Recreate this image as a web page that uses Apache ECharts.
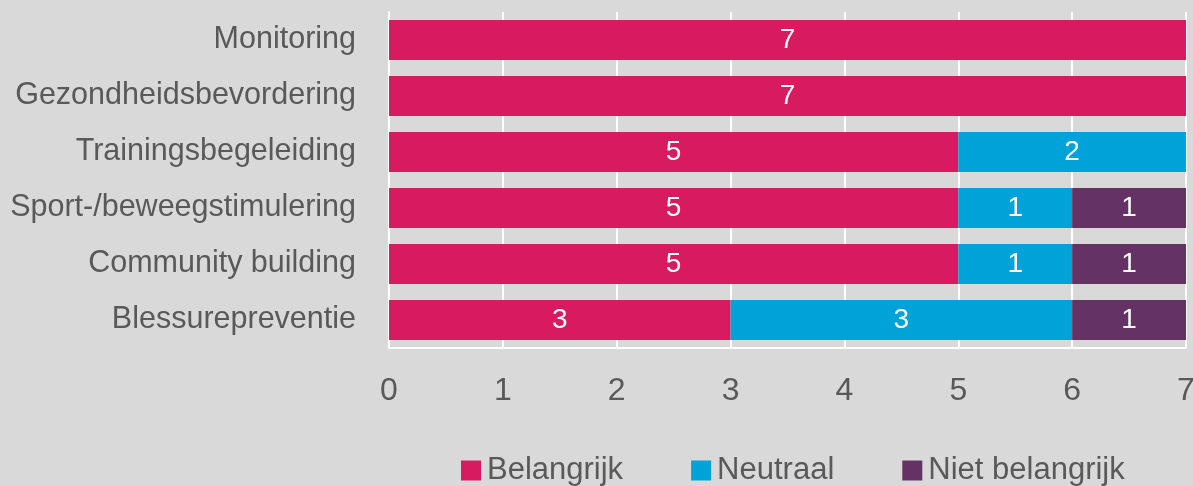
<!DOCTYPE html>
<html>
<head>
<meta charset="utf-8">
<script src="https://cdn.jsdelivr.net/npm/echarts@6/dist/echarts.min.js"></script>
<style>
  html, body { margin: 0; padding: 0; background: #d9d9d9; }
  #chart { width: 1193px; height: 486px; }
</style>
</head>
<body>
<div id="chart"></div>
<script>
const categories = ['Monitoring', 'Gezondheidsbevordering', 'Trainingsbegeleiding', 'Sport-/beweegstimulering', 'Community building', 'Blessurepreventie'];
const belangrijk = [7, 7, 5, 5, 5, 3];
const neutraal = [0, 0, 2, 1, 1, 3];
const nietBelangrijk = [0, 0, 0, 1, 1, 1];

const font = "'Liberation Sans Narrow', 'Arial Narrow', 'Liberation Sans', sans-serif";
const colors = { pink: '#d81a60', blue: '#00a3d8', purple: '#643264', text: '#595959' };

const chart = echarts.init(document.getElementById('chart'));

const makeSeries = (name, data, color) => ({
  name,
  type: 'bar',
  stack: 'total',
  barWidth: 40,
  data: data.map(v => v === 0 ? null : v),
  itemStyle: { color },
  label: { show: true, position: 'inside', color: '#fff', fontSize: 28, fontFamily: font }
});

chart.setOption({
  backgroundColor: '#d9d9d9',
  animation: false,
  grid: { left: 389, right: 7, top: 12, bottom: 138, outerBoundsMode: 'none', containLabel: false },
  legend: {
    top: 450,
    left: 456,
    itemWidth: 20,
    itemHeight: 20,
    itemGap: 68,
    icon: 'rect',
    textStyle: { color: colors.text, fontSize: 31, fontFamily: font, padding: [0, 0, 0, 1] },
    data: ['Belangrijk', 'Neutraal', 'Niet belangrijk']
  },
  xAxis: {
    type: 'value',
    min: 0,
    max: 7,
    interval: 1,
    axisLine: { show: true, lineStyle: { color: '#fff', width: 2 } },
    axisTick: { show: false },
    splitLine: { lineStyle: { color: '#fff', width: 2 } },
    axisLabel: { color: colors.text, fontSize: 32, fontFamily: font, margin: 27 }
  },
  yAxis: {
    type: 'category',
    inverse: true,
    data: categories,
    axisLine: { show: true, lineStyle: { color: '#fff', width: 2 } },
    axisTick: { show: false },
    axisLabel: { color: colors.text, fontSize: 30.5, fontFamily: font, margin: 33 }
  },
  series: [
    makeSeries('Belangrijk', belangrijk, colors.pink),
    makeSeries('Neutraal', neutraal, colors.blue),
    makeSeries('Niet belangrijk', nietBelangrijk, colors.purple)
  ]
});
</script>
</body>
</html>
